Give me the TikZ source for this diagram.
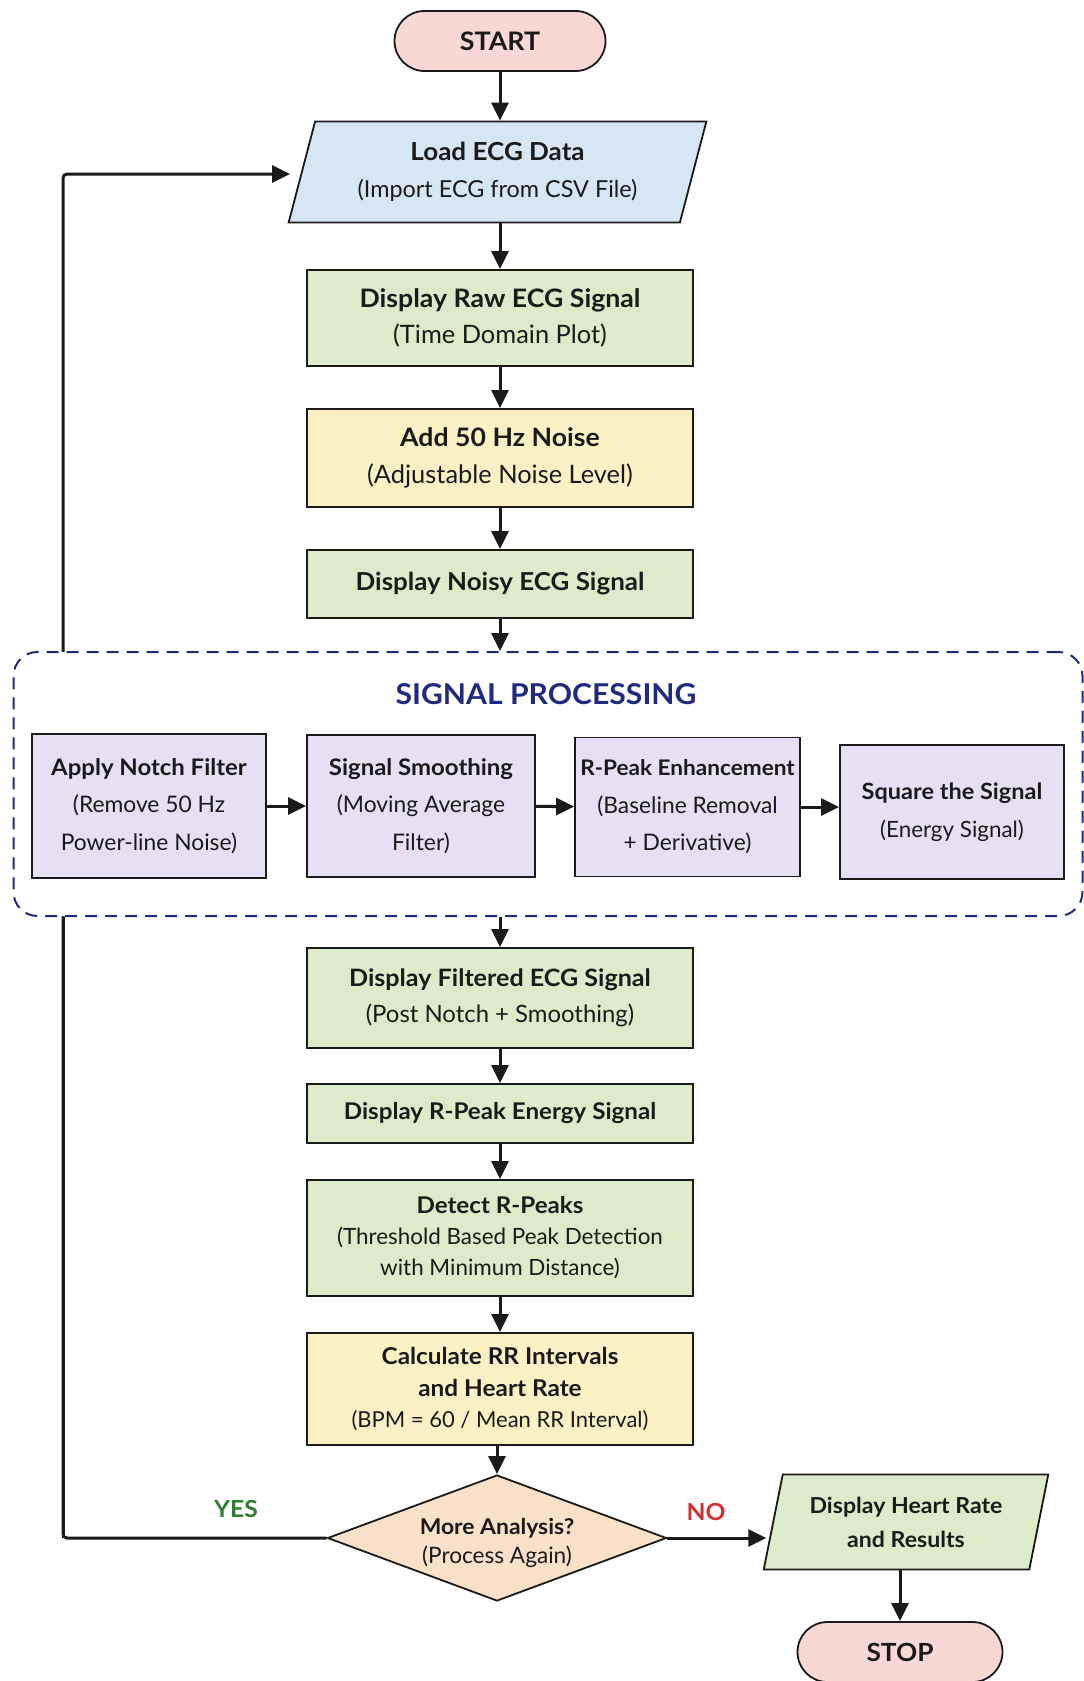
\documentclass[tikz,border=0pt]{standalone}
\usepackage{fontspec}
\setmainfont{Lato}[BoldFeatures={FakeStretch=1.05}]
\usetikzlibrary{arrows.meta,shapes.geometric}
\definecolor{cpink}{HTML}{F9D8D6}
\definecolor{cblue}{HTML}{D6E6F5}
\definecolor{cgreen}{HTML}{DDEBCA}
\definecolor{cyellow}{HTML}{FCF1C4}
\definecolor{cpurple}{HTML}{E7E0F4}
\definecolor{cpeach}{HTML}{FBE1C8}
\definecolor{cnavy}{HTML}{1F2A80}
\definecolor{cyes}{HTML}{2E7D32}
\definecolor{cno}{HTML}{D32F2F}
\definecolor{cline}{HTML}{1A1A1A}
\newcommand{\fs}[2]{\fontsize{#1}{#2}\selectfont}
\begin{document}
\begin{tikzpicture}[x=1pt,y=-1pt,
  txt/.style={align=center, inner sep=0pt, font=\fs{22}{36}, text=cline},
  box/.style={txt, draw=cline, line width=1.8pt, minimum width=386pt},
  gbox/.style={box, fill=cgreen},
  ybox/.style={box, fill=cyellow},
  pbox/.style={txt, draw=cline, line width=1.8pt, fill=cpurple, font=\fs{22.8}{37.5}},
  term/.style={txt, draw=cline, line width=1.8pt, fill=cpink, rounded corners=30pt, minimum width=211pt, minimum height=60pt, font=\fs{25.5}{28}},
  para/.style={txt, draw=cline, line width=1.8pt, trapezium, trapezium stretches=true},
  arr/.style={draw=cline, line width=3pt, -{Triangle[length=18pt,width=17pt]}},
  plain/.style={draw=cline, line width=3pt}
]
\useasboundingbox (0,0) rectangle (1084,1681);
\fill[white] (0,0) rectangle (1084,1681);

% main column
\node[term] (start) at (500,41) {\textbf{START}};
\node[para, fill=cblue, trapezium left angle=71, trapezium right angle=109, minimum width=419pt, minimum height=101pt, font=\fs{23.4}{36.5}] (load) at (497.5,172) {{\fs{24.8}{36.5}\textbf{Load ECG Data}}\\(Import ECG from CSV File)};
\node[gbox, minimum height=96pt, font=\fs{25.4}{36.5}] (raw) at (500,318) {\textbf{Display Raw ECG Signal}\\(Time Domain Plot)};
\node[ybox, minimum height=98pt, font=\fs{25.4}{36.5}] (noise) at (500,458) {\textbf{Add 50 Hz Noise}\\(Adjustable Noise Level)};
\node[gbox, minimum height=68pt, font=\fs{24.7}{30}] (noisy) at (500,584) {\textbf{Display Noisy ECG Signal}};

% loop line (drawn before the dashed group so the group covers it)
\coordinate (loopx) at (63,0);
\coordinate (looptip) at (290,174);
\node[draw=cline, line width=1.8pt, fill=cpeach, diamond, inner sep=0pt, minimum width=339pt, minimum height=126pt] (dec) at (497,1538) {};
\draw[arr, rounded corners=4pt] (dec.west) -| (loopx |- looptip) -- (looptip);

% signal processing group
\node[draw=cnavy, line width=2pt, dash pattern=on 12pt off 8pt, rounded corners=24pt, fill=white, minimum width=1069pt, minimum height=264pt, inner sep=0pt] (sp) at (548,784) {};
\node[font=\fs{28.7}{32}\bfseries, text=cnavy] (sptitle) at (546,694) {SIGNAL PROCESSING};
\node[pbox, minimum width=234pt, minimum height=144pt] (notch) at (149,806) {\textbf{Apply Notch Filter}\\(Remove 50 Hz\\Power-line Noise)};
\node[pbox, minimum width=228pt, minimum height=142pt] (smooth) at (421,806) {\textbf{Signal Smoothing}\\(Moving Average\\Filter)};
\node[pbox, minimum width=225pt, minimum height=139pt] (rpeak) at (687.5,807) {{\fs{21.5}{37.5}\textbf{R-Peak Enhancement}}\\(Baseline Removal\\+ Derivative)};
\node[pbox, minimum width=224pt, minimum height=134pt, font=\fs{22.4}{37.5}] (square) at (952,812) {\textbf{Square the Signal}\\(Energy Signal)};

\node[gbox, minimum height=100pt, font=\fs{23.9}{36.5}] (filtered) at (500,998) {\textbf{Display Filtered ECG Signal}\\(Post Notch + Smoothing)};
\node[gbox, minimum height=59pt, font=\fs{23}{28}] (energy) at (500,1113.5) {\textbf{Display R-Peak Energy Signal}};
\node[gbox, minimum height=116pt, font=\fs{22.4}{31}] (detect) at (500,1238) {{\fs{23}{31}\textbf{Detect R-Peaks}}\\(Threshold Based Peak Detection\\with Minimum Distance)};
\node[ybox, minimum height=112pt, font=\fs{22}{31.5}] (calc) at (500,1389) {{\fs{23.2}{31.5}\textbf{Calculate RR Intervals}}\\{\fs{23.2}{31.5}\textbf{and Heart Rate}}\\(BPM = 60 / Mean RR Interval)};

\node[txt, font=\fs{22.6}{29}] (dectext) at (497,1543) {{\fs{21.8}{29}\textbf{More Analysis?}}\\(Process Again)};
\node[para, fill=cgreen, trapezium left angle=73.6, trapezium right angle=106.4, minimum width=285pt, minimum height=95pt, font=\fs{22}{34}] (heart) at (906,1522) {\textbf{Display Heart Rate}\\\textbf{and Results}};
\node[term, minimum width=205pt, font=\fs{25}{28}] (stop) at (900,1652) {\textbf{STOP}};

\node[font=\fs{23.5}{26}\bfseries, text=cyes] (yes) at (236,1509) {YES};
\node[font=\fs{23.5}{26}\bfseries, text=cno] (no) at (706,1512) {NO};

% connectors
\draw[arr] (start) -- (load.north -| start);
\draw[arr] (load.south -| raw) -- (raw);
\draw[arr] (raw) -- (noise);
\draw[arr] (noise) -- (noisy);
\draw[arr] (noisy) -- (noisy |- sp.north);
\draw[arr] (notch) -- (smooth);
\draw[arr] (smooth) -- (rpeak);
\draw[arr] (rpeak) -- (square.west |- rpeak);
\draw[plain] (loopx |- sp.south) -- (loopx |- dec);
\draw[arr] (filtered |- sp.south) -- (filtered);
\draw[arr] (filtered) -- (energy);
\draw[arr] (energy) -- (detect);
\draw[arr] (detect) -- (calc);
\draw[arr] (calc.south -| dec.north) -- (dec.north);
\draw[arr, shorten >=6pt] (dec.east) -- (dec.east -| heart.west);
\draw[arr] (stop.north |- heart.south) -- (stop);
\end{tikzpicture}
\end{document}
